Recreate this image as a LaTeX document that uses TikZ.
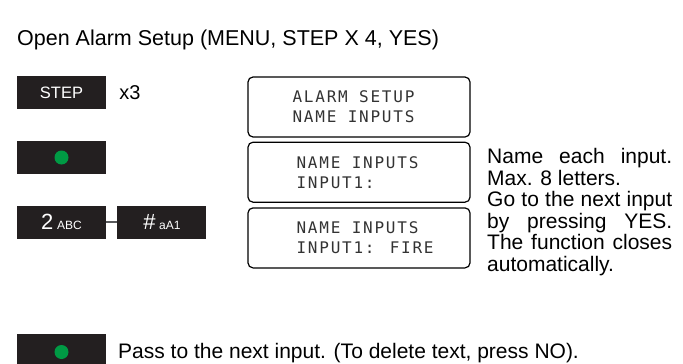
\documentclass[tikz,border=0pt]{standalone}
\usepackage{fontspec}
\setmainfont{Liberation Sans}
\newfontfamily\lcdfont[LetterSpace=11]{DejaVu Sans Mono}
\usepackage{xcolor}
\usepackage{tikz}
\definecolor{keyblack}{RGB}{35,31,32}
\definecolor{ledgreen}{RGB}{0,154,68}
\definecolor{linkgray}{RGB}{88,89,91}
\usetikzlibrary{positioning}

\begin{document}
\begin{tikzpicture}[x=1pt, y=-1pt,
	key/.style={fill=keyblack, text=white, minimum width=89pt, minimum height=33pt, inner sep=0pt},
	led/.style={circle, fill=ledgreen, minimum size=14pt, inner sep=0pt},
	lcd/.style={draw, rounded corners=5pt, line width=1.2pt, minimum width=222pt, minimum height=60pt},
	lcdtext/.style={align=left, inner sep=0pt, text=black!80, font=\lcdfont\fontsize{16}{20}\selectfont}]
	\useasboundingbox (0,0) rectangle (683,364);

	\node[anchor=base west, inner sep=0pt, font=\fontsize{21.5}{24}\selectfont] (title) at (17,45) {Open Alarm Setup (MENU, STEP X 4, YES)};

	% keys on the left
	\node[key, font=\fontsize{16.5}{18}\selectfont] (k1) at (61.5,92.5) {STEP};
	\node[right=13pt of k1, inner sep=0pt, font=\fontsize{20}{22}\selectfont] (x3) {x3};
	\node[key] (k2) at (61.5,157.5) {};
	\node[led] (d2) at (k2) {};
	\node[key] (k3) at (61.5,222) {\fontsize{22}{22}\selectfont 2\,\fontsize{12}{14}\selectfont ABC};
	\node[key, right=11pt of k3] (k4) {\fontsize{22}{22}\selectfont \#\,\fontsize{12}{14}\selectfont aA1};
	\draw[linkgray, line width=1.5pt] (k3) -- (k4);

	% display
	\node[lcd] (s1) at (359,107) {};
	\node[lcdtext, anchor=west] (t1) at ([xshift=45pt]s1.west) {ALARM SETUP\\NAME INPUTS};
	\node[lcd, below=4pt of s1] (s2) {};
	\node[lcdtext, anchor=west] (t2) at ([xshift=49pt]s2.west) {NAME INPUTS\\INPUT1:};
	\node[lcd, below=4.5pt of s2] (s3) {};
	\node[lcdtext, anchor=west] (t3) at ([xshift=49pt]s3.west) {NAME INPUTS\\INPUT1: FIRE};

	\node[anchor=north west, inner sep=0pt, text width=185pt, align=justify, font=\fontsize{21}{21.6}\selectfont] (help) at (487,148)
		{Name each input.\linebreak Max. 8 letters.\\ Go to the next input\linebreak by pressing YES.\linebreak The function closes\linebreak automatically.};

	% bottom row
	\node[key, minimum height=30pt] (k5) at (61.5,349) {};
	\node[led] (d5) at (61.5,352) {};
	\node[anchor=base west, inner sep=0pt, font=\fontsize{21}{24}\selectfont] (pass) at (118,358) {Pass to the next input. (To delete text, press NO).};
\end{tikzpicture}
\end{document}
